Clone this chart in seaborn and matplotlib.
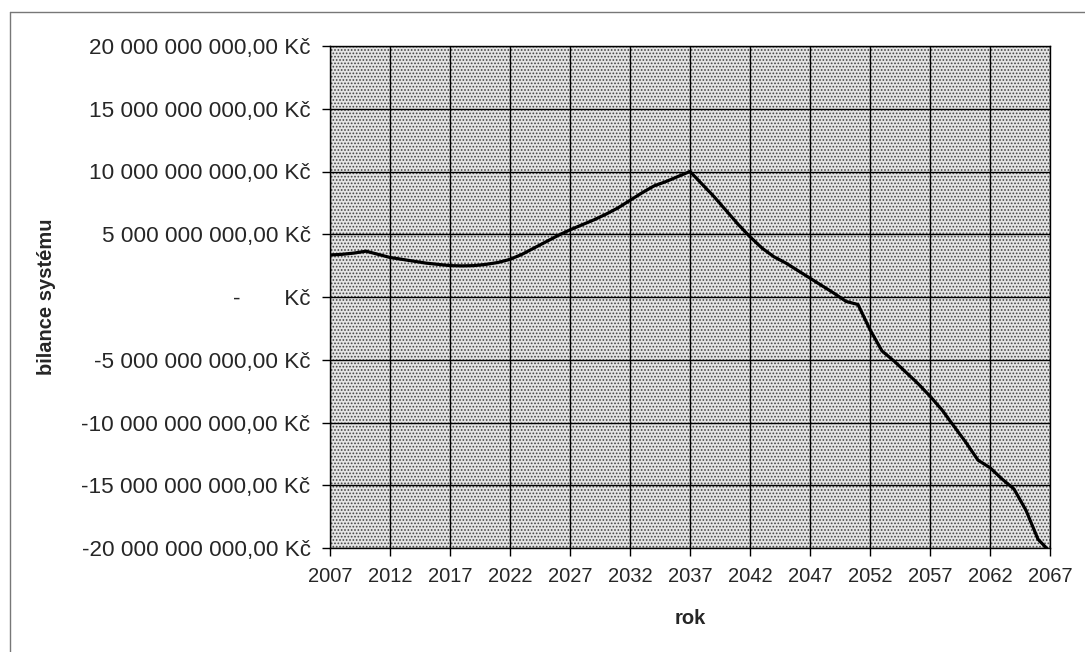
import numpy as np
import pandas as pd
import matplotlib.pyplot as plt
import matplotlib.ticker as mticker
from matplotlib.lines import Line2D
from matplotlib.patches import Rectangle
import seaborn as sns

# rok a bilance systemu (v miliardach Kc)
roky = list(range(2007, 2068))
bilance_mld = [
    3.35, 3.40, 3.50, 3.65, 3.40, 3.15, 3.00, 2.85, 2.70, 2.60,
    2.50, 2.48, 2.50, 2.60, 2.75, 3.00, 3.40, 3.90, 4.40, 4.90,
    5.35, 5.75, 6.15, 6.60, 7.10, 7.70, 8.30, 8.85, 9.20, 9.60,
    10.00, 9.00, 8.00, 6.90, 5.80, 4.80, 3.90, 3.20, 2.70, 2.10,
    1.50, 0.90, 0.30, -0.35, -0.60, -2.60, -4.30, -5.10, -6.00, -6.90,
    -7.90, -9.00, -10.30, -11.60, -13.00, -13.60, -14.50, -15.30, -17.00, -19.30,
    -20.30,
]
y_ticks = [-20e9, -15e9, -10e9, -5e9, 0, 5e9, 10e9, 15e9, 20e9]
x_ticks = list(range(2007, 2068, 5))

df = pd.DataFrame({"rok": roky, "bilance": np.array(bilance_mld) * 1e9})

sns.set_style("white")
plt.rcParams["font.family"] = ["Liberation Sans", "DejaVu Sans"]
plt.rcParams["hatch.linewidth"] = 0.8

fig = plt.figure(figsize=(10.85, 6.52), dpi=100)
ax = fig.add_axes([330 / 1085, 1 - 548 / 652, 720 / 1085, 502 / 652])

# teckovane pozadi
ax.set_facecolor("white")
ax.add_patch(Rectangle((0, 0), 1, 1, transform=ax.transAxes, facecolor="#e4e4e4",
                       edgecolor="#444444", hatch=".....", linewidth=0, zorder=0))

sns.lineplot(data=df, x="rok", y="bilance", ax=ax, color="black", linewidth=2.3, zorder=3)

ax.set_xlim(2007, 2067)
ax.set_ylim(-20e9, 20e9)
ax.set_xticks(x_ticks)
ax.set_yticks(y_ticks)


def kc_format(v, pos):
    if abs(v) < 1:
        return "-       Kč"
    s = f"{v:,.2f}".replace(",", " ").replace(".", ",")
    return s + " Kč"


ax.yaxis.set_major_formatter(mticker.FuncFormatter(kc_format))
ax.tick_params(axis="y", labelsize=16.2, direction="out", length=6, width=1, color="black", pad=8, left=True)
ax.tick_params(axis="x", labelsize=14.5, direction="out", length=6, width=1, color="black", pad=8, bottom=True)

ax.grid(True, color="black", linewidth=1.0, zorder=1)
ax.set_axisbelow(True)
for sp in ax.spines.values():
    sp.set_color("black")
    sp.set_linewidth(1.0)

ax.set_xlabel("rok", fontsize=14.5, fontweight="bold", labelpad=16)
ax.set_ylabel("bilance systému", fontsize=14.5, fontweight="bold", labelpad=18)

# ramecek kolem grafu
fig.add_artist(Line2D([10 / 1085, 1.0], [1 - 12 / 652, 1 - 12 / 652], color="#777777", linewidth=1.0))
fig.add_artist(Line2D([10 / 1085, 10 / 1085], [1 - 12 / 652, 0.0], color="#777777", linewidth=1.0))

fig.savefig("out.png", dpi=100)
